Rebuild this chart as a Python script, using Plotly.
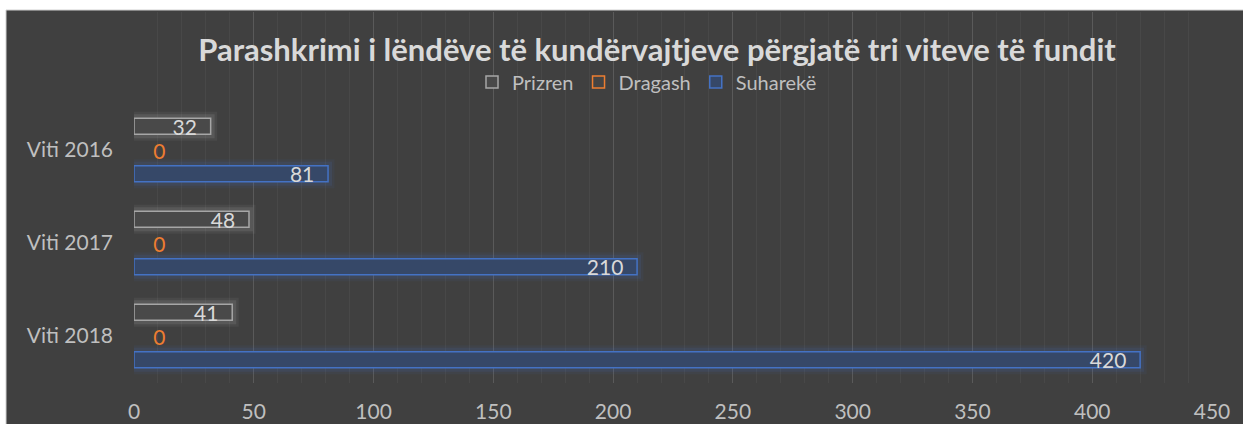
import plotly.graph_objects as go

categories = ["Viti 2016", "Viti 2017", "Viti 2018"]
prizren = [32, 48, 41]
dragash = [0, 0, 0]
suhareke = [81, 210, 420]
x_ticks = [0, 50, 100, 150, 200, 250, 300, 350, 400, 450]

W, H = 1243, 424
L, R, T, B = 134, 31, 12, 41
pw, ph = W - L - R, H - T - B

FONT = "Lato"
BG = "#404040"
TXT = "#bfbfbf"
LBL = "#d9d9d9"
ORANGE = "#ED7D31"

fig = go.Figure()

# soft glow layers drawn underneath the outlined bars (groups a, b, c in order)
glow_specs = [(prizren, "a", "200,200,200"), (None, "b", None), (suhareke, "c", "68,114,196")]
for vals, grp, rgb in glow_specs:
    if vals is None:
        fig.add_trace(go.Bar(y=[None], x=[None], orientation="h", offsetgroup=grp,
                             showlegend=False, hoverinfo="skip"))
        continue
    for w, a in [(13, 0.07), (8, 0.12)]:
        fig.add_trace(go.Bar(
            y=categories, x=vals, orientation="h", offsetgroup=grp, showlegend=False,
            hoverinfo="skip",
            marker=dict(color="rgba(0,0,0,0)", line=dict(color=f"rgba({rgb},{a})", width=w)),
        ))

fig.add_trace(go.Bar(
    y=categories, x=prizren, name="Prizren", orientation="h", offsetgroup="a",
    marker=dict(color="#494949", line=dict(color="#a6a6a6", width=1.5)),
    texttemplate="%{x}\u00a0\u00a0", textposition="inside",
    insidetextanchor="end", textfont=dict(color=LBL, size=21, family=FONT),
    constraintext="none",
))
# legend entry for Dragash (outlined square)
fig.add_trace(go.Bar(
    y=[None], x=[None], name="Dragash", orientation="h", offsetgroup="b",
    marker=dict(color="#444444", line=dict(color=ORANGE, width=1.5)),
))
fig.add_trace(go.Bar(
    y=categories, x=dragash, name="Dragash", orientation="h", offsetgroup="b",
    showlegend=False,
    marker=dict(color="rgba(0,0,0,0)", line=dict(width=0)),
    texttemplate="\u00a0\u00a0\u00a0%{x}", textposition="outside",
    textfont=dict(color=ORANGE, size=21, family=FONT), cliponaxis=False,
    constraintext="none",
))
fig.add_trace(go.Bar(
    y=categories, x=suhareke, name="Suharekë", orientation="h", offsetgroup="c",
    marker=dict(color="#364868", line=dict(color="#4472C4", width=1.5)),
    texttemplate="%{x}\u00a0\u00a0", textposition="inside",
    insidetextanchor="end", textfont=dict(color=LBL, size=21, family=FONT),
    constraintext="none",
))

# dark chart area with light border
x0 = (6 - L) / pw
x1 = (W + 2 - L) / pw
y1 = (H - B - 10) / ph
y0 = (H - B - H - 2) / ph
fig.add_shape(type="rect", xref="paper", yref="paper", x0=x0, x1=x1, y0=y0, y1=y1,
              fillcolor=BG, line=dict(color="#d0d0d0", width=1), layer="below")

cat_px = 93.0
bottom = 2 + 47.0 / cat_px
top = bottom - ph / cat_px

fig.update_layout(
    width=W, height=H,
    margin=dict(l=L, r=R, t=T, b=B, pad=0, autoexpand=False),
    paper_bgcolor="white", plot_bgcolor="rgba(0,0,0,0)",
    barmode="group", bargap=0.234, bargroupgap=0.33,
    font=dict(family=FONT, color=TXT, size=21),
    title=dict(text="<b>Parashkrimi i lëndëve të kundërvajtjeve përgjatë tri viteve të fundit</b>",
               x=657 / W, xref="container", xanchor="center",
               y=1 - 50 / H, yref="container", yanchor="middle",
               font=dict(size=31, color=LBL, family=FONT)),
    legend=dict(orientation="h", xref="container", x=647 / W, xanchor="center",
                yref="container", y=1 - 82 / H, yanchor="middle",
                font=dict(size=20, color=TXT, family=FONT), bgcolor="rgba(0,0,0,0)",
                traceorder="normal", itemwidth=30),
    showlegend=True,
)
fig.update_xaxes(
    range=[0, 450], tickvals=x_ticks, showgrid=True, gridcolor="#5a5a5a", gridwidth=1,
    zeroline=False, showline=False, ticks="", tickfont=dict(size=21, color=TXT),
    ticklabelstandoff=14,
    minor=dict(dtick=10, showgrid=True, gridcolor="#484848", gridwidth=1),
)
fig.update_yaxes(
    categoryorder="array", categoryarray=categories,
    range=[bottom, top], showgrid=False, zeroline=False, showline=False, ticks="",
    tickfont=dict(size=21, color=TXT), ticklabelstandoff=20,
)

fig.write_html("out.html", config={"displayModeBar": False},
               post_script="document.body.style.margin='0';document.body.style.overflow='hidden';")
